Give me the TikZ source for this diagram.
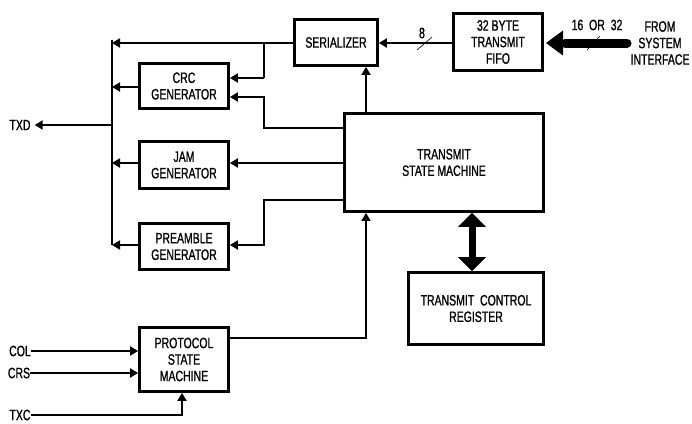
\documentclass[tikz,border=0pt]{standalone}
\usepackage{fontspec}
\setmainfont{Liberation Sans}[FakeStretch=0.7,FakeBold=1.0]
\usetikzlibrary{arrows.meta,calc}
\begin{document}
\begin{tikzpicture}[x=1pt,y=-1pt,
  font=\fontsize{15}{16.5}\selectfont,
  blk/.style={draw,line width=2.8pt,align=center,inner sep=0pt,minimum width=#1},
  conn/.style={line width=2pt},
  arr/.style={conn,-{Triangle[length=8pt,width=9pt]}},
  thinarr/.style={line width=1.4pt,-{Triangle[length=8pt,width=9pt]}},
  lbl/.style={align=center,inner sep=0pt}]
\useasboundingbox (0,0) rectangle (692,423);
% blocks
\node[blk=83pt,minimum height=46pt] (ser) at (336,42.5) {SERIALIZER};
\node[blk=89pt,minimum height=57pt] (fifo) at (498,42) {32 BYTE\\TRANSMIT\\FIFO};
\node[blk=89pt,minimum height=45pt] (crc) at (184,86) {CRC\\GENERATOR};
\node[blk=89pt,minimum height=47pt] (jam) at (184,165) {JAM\\GENERATOR};
\node[blk=89pt,minimum height=46pt] (pre) at (184,246.5) {PREAMBLE\\GENERATOR};
\node[blk=199pt,minimum height=98pt] (tsm) at (444,162.5) {TRANSMIT\\STATE MACHINE};
\node[blk=135pt,minimum height=72pt] (tcr) at (476,308.5) {TRANSMIT\ \ CONTROL\\REGISTER};
\node[blk=89pt,minimum height=64pt] (pro) at (184,359.5) {PROTOCOL\\STATE\\MACHINE};
% labels
\node[lbl] (txd) at (20,125) {TXD};
\node[lbl] (col) at (20,351) {COL};
\node[lbl] (crs) at (19,373) {CRS};
\node[lbl] (txc) at (20,415) {TXC};
\node[lbl] (from) at (660,43) {FROM\\SYSTEM\\INTERFACE};
\node[lbl] (w8) at (422,33) {8};
\node[lbl] (w16) at (597,25) {16\ \ OR\ \ 32};
% coordinates
\coordinate (busT) at (112,40);
\coordinate (busB) at (112,245);
\coordinate (bx) at (264,0);
\coordinate (xa) at (366,0);
\coordinate (xb) at (472,0);
\coordinate (xc) at (182,0);
\coordinate (src) at (627,43);
\coordinate (txdA) at ($(txd.east)+(4,0)$);
% bus
\draw[conn] (busT) -- (busB);
\draw[arr] (ser.west |- 0,43) -- (busT |- 0,43);
\draw[conn] (bx |- 0,43) -- (bx |- 0,78);
\draw[arr] (bx |- 0,78) -- (crc.east |- 0,78);
\draw[arr] (tsm.west |- 0,128) -- (bx |- 0,128) -- (bx |- 0,97) -- (crc.east |- 0,97);
\draw[arr] (crc.west |- 0,87) -- (busT |- 0,87);
\draw[arr] (tsm.west |- 0,163) -- (jam.east |- 0,163);
\draw[arr] (jam.west |- 0,163) -- (busT |- 0,163);
\draw[arr] (tsm.west |- 0,200) -- (bx |- 0,200) -- (bx |- 0,245) -- (pre.east |- 0,245);
\draw[arr] (pre.west |- 0,245) -- (busB);
\draw[arr] (busT |- txdA) -- (txdA);
% serializer feed
\draw[arr] (tsm.north -| xa) -- (ser.south -| xa);
\draw[arr] (fifo.west |- 0,43) -- (ser.east |- 0,43);
\draw[line width=0.6pt] (417,50) -- (432,37);
\draw[line width=9pt,line cap=round] (src) -- (565,43);
\fill (546,43) -- (563,30.5) -- (563,55.5) -- cycle;
\draw[line width=0.6pt] (587,50) -- (600,36);
% TSM <-> TCR
\draw[line width=7pt,{Triangle[length=14pt,width=27pt]}-{Triangle[length=14pt,width=27pt]}] (tsm.south -| xb) -- (tcr.north -| xb);
% protocol
\draw[thinarr] (pro.east |- 0,338) -- (xa |- 0,338) -- (tsm.south -| xa);
\draw[arr] (col.east) -- (pro.west |- col.east);
\draw[arr] (crs.east) -- (pro.west |- crs.east);
\draw[arr] (txc.east) -- (xc |- txc.east) -- (pro.south -| xc);
\end{tikzpicture}
\end{document}
